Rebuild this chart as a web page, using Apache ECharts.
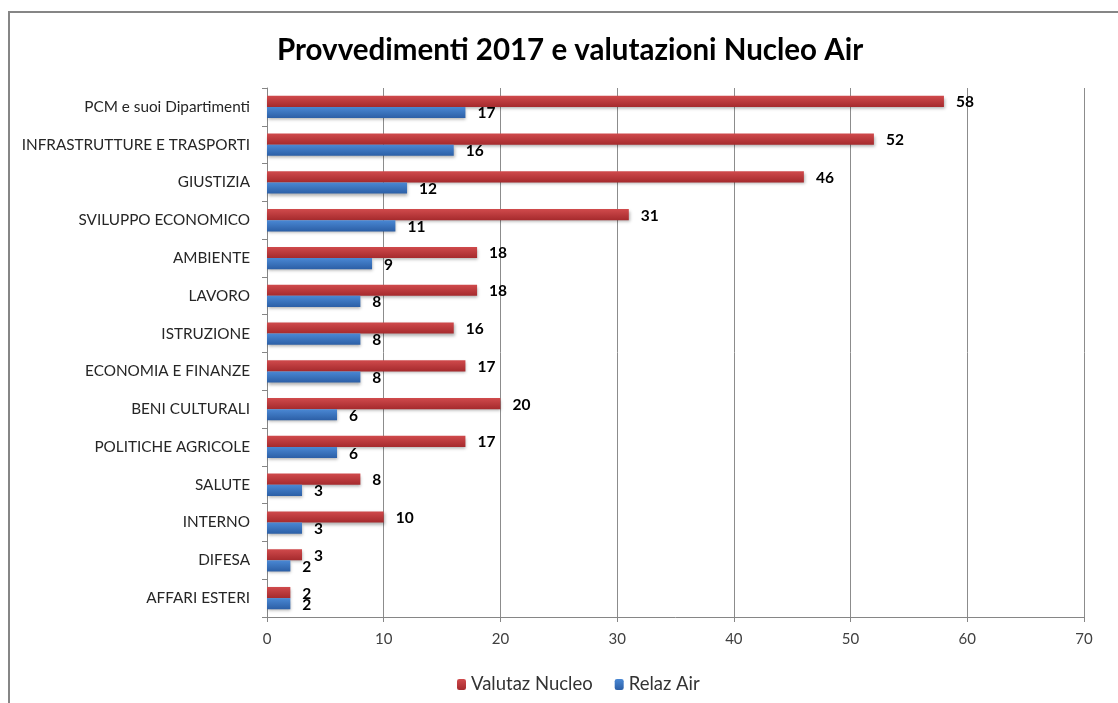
<!DOCTYPE html>
<html>
<head>
<meta charset="utf-8">
<script src="https://cdn.jsdelivr.net/npm/echarts@6/dist/echarts.min.js"></script>
<style>
	html,body{margin:0;padding:0;background:#fff;}
	#main{width:1118px;height:703px;}
</style>
</head>
<body>
<div id="main"></div>
<script>
	// categories, top to bottom
	var categories = ['PCM e suoi Dipartimenti','INFRASTRUTTURE E TRASPORTI','GIUSTIZIA','SVILUPPO ECONOMICO','AMBIENTE','LAVORO','ISTRUZIONE','ECONOMIA E FINANZE','BENI CULTURALI','POLITICHE AGRICOLE','SALUTE','INTERNO','DIFESA','AFFARI ESTERI'];
	var valutazNucleo = [58,52,46,31,18,18,16,17,20,17,8,10,3,2];
	var relazAir = [17,16,12,11,9,8,8,8,6,6,3,3,2,2];
	var xTicks = {min:0, max:70, interval:10};

	var myChart = echarts.init(document.getElementById('main'));

	function grad(top, bottom){
		return new echarts.graphic.LinearGradient(0,0,0,1,[
			{offset:0,color:top},{offset:1,color:bottom}
		]);
	}
	var labelStyle = {
		show:true,
		position:'right',
		distance:12,
		offset:[0,1],
		color:'#000',
		fontWeight:'bold',
		fontSize:15.5,
		fontFamily:'Lato'
	};

	var option = {
		animation:false,
		backgroundColor:'#fff',
		graphic:[{
			type:'rect',
			shape:{x:9,y:12,width:1300,height:900},
			style:{fill:'none',stroke:'#868686',lineWidth:2},
			silent:true
		}],
		title:{
			text:'Provvedimenti 2017 e valutazioni Nucleo Air',
			left:272,
			top:30,
			textStyle:{fontFamily:'Lato',fontWeight:'bold',fontSize:29.5,color:'#000'}
		},
		legend:{
			left:452,
			top:670,
			itemWidth:9,
			itemHeight:11,
			itemGap:22,
			textStyle:{fontFamily:'Lato',fontSize:18.5,color:'#333'},
			data:['Valutaz Nucleo','Relaz Air']
		},
		grid:{left:267,right:34,top:88,bottom:86},
		xAxis:{
			type:'value',
			min:xTicks.min,
			max:xTicks.max,
			interval:xTicks.interval,
			axisLine:{show:true,lineStyle:{color:'#868686'}},
			axisTick:{show:true,length:5,lineStyle:{color:'#868686'}},
			axisLabel:{fontFamily:'Lato',fontSize:15,color:'#404040',margin:15},
			splitLine:{show:true,lineStyle:{color:'#8c8c8c'}}
		},
		yAxis:{
			type:'category',
			inverse:true,
			data:categories,
			axisLine:{show:true,lineStyle:{color:'#868686'}},
			axisTick:{show:true,length:5,lineStyle:{color:'#868686'}},
			axisLabel:{interval:0,fontFamily:'Lato',fontSize:15.3,color:'#262626',margin:17}
		},
		series:[{
			name:'Valutaz Nucleo',
			type:'bar',
			barGap:'0%',
			barCategoryGap:'41%',
			itemStyle:{color:grad('#d04a4c','#a52a2d'),shadowColor:'rgba(0,0,0,0.3)',shadowBlur:3,shadowOffsetX:1,shadowOffsetY:2},
			label:labelStyle,
			data:valutazNucleo
		},{
			name:'Relaz Air',
			type:'bar',
			itemStyle:{color:grad('#4a88d4','#2c5fa6'),shadowColor:'rgba(0,0,0,0.3)',shadowBlur:3,shadowOffsetX:1,shadowOffsetY:2},
			label:labelStyle,
			data:relazAir
		}]
	};
	myChart.setOption(option);
</script>
</body>
</html>
